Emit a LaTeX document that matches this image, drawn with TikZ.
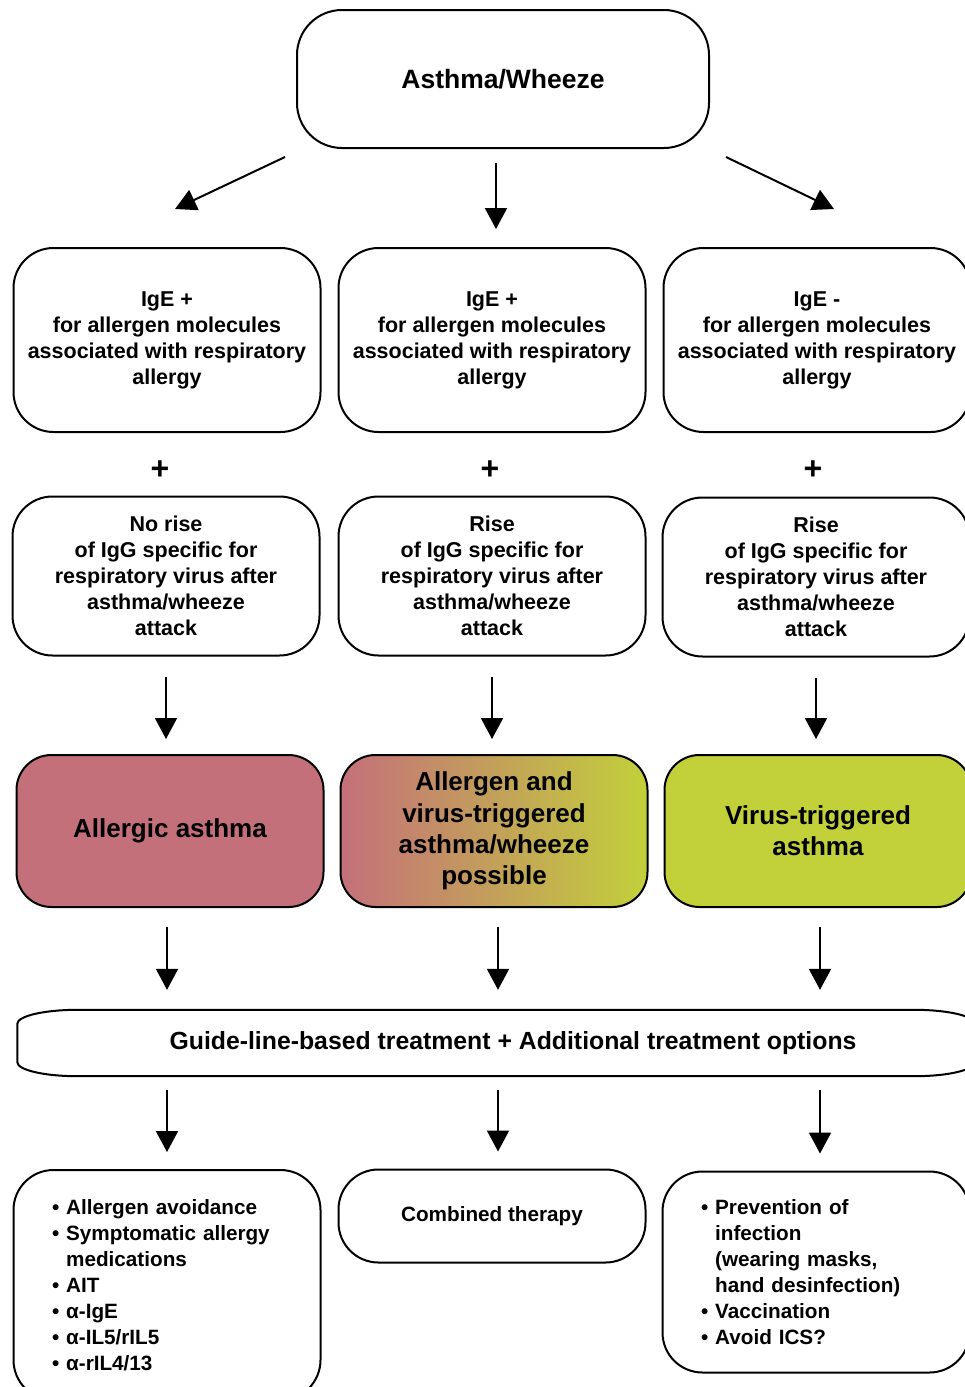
\documentclass[tikz,border=0pt]{standalone}
\usepackage{fontspec}
\setmainfont{Liberation Sans}
\usetikzlibrary{arrows.meta}

\definecolor{allergic}{RGB}{196,112,122}
\definecolor{viral}{RGB}{194,208,58}

\tikzset{
  box/.style={draw, line width=2pt, rounded corners=40pt, align=center, inner sep=0pt,
    minimum width=307pt, font=\bfseries\fontsize{21.5}{26}\selectfont},
  bigbox/.style={box, rounded corners=35pt, minimum height=152pt,
    font=\bfseries\fontsize{26}{31.3}\selectfont},
  listbox/.style={box, align=left, text width=230pt, font=\bfseries\fontsize{20.7}{26}\selectfont},
  arr/.style={line width=2pt, -{Triangle[length=21pt,width=22pt]}},
  plus/.style={font=\bfseries\fontsize{32}{32}\selectfont}
}

\begin{document}
\begin{tikzpicture}[x=1pt,y=-1pt]
    \clip (0,0) rectangle (965,1387);
    \fill[white] (0,0) rectangle (965,1387);

    % top
    \node[box, rounded corners=45pt, minimum width=412pt, minimum height=138pt,
      font=\bfseries\fontsize{26.5}{30}\selectfont] (top) at (503,79) {Asthma/Wheeze};

    % IgE status
    \node[box, minimum height=184pt] (ige1) at (167,340) {IgE +\\for allergen molecules\\associated with respiratory\\allergy};
    \node[box, minimum height=184pt] (ige2) at (492,340) {IgE +\\for allergen molecules\\associated with respiratory\\allergy};
    \node[box, minimum height=184pt] (ige3) at (817,340) {IgE -\\for allergen molecules\\associated with respiratory\\allergy};

    \node[plus] (plus1) at (160,470) {+};
    \node[plus] (plus2) at (490,470) {+};
    \node[plus] (plus3) at (813,470) {+};

    % IgG rise
    \node[box, minimum height=159pt] (igg1) at (166,576) {No rise\\of IgG specific for\\respiratory virus after\\asthma/wheeze\\attack};
    \node[box, minimum height=159pt] (igg2) at (492,576) {Rise\\of IgG specific for\\respiratory virus after\\asthma/wheeze\\attack};
    \node[box, minimum height=159pt] (igg3) at (816,577) {Rise\\of IgG specific for\\respiratory virus after\\asthma/wheeze\\attack};

    % diagnosis
    \node[bigbox, fill=allergic] (dia1) at (170,831) {Allergic asthma};
    \node[bigbox, left color=allergic, right color=viral] (dia2) at (494,831) {Allergen and\\virus-triggered\\asthma/wheeze\\possible};
    \node[bigbox, fill=viral] (dia3) at (818,831) {Virus-triggered\\asthma};

    % treatment banner
    \node[minimum width=957pt, minimum height=66pt, inner sep=0pt,
      font=\bfseries\fontsize{24.8}{26}\selectfont] (treat) at (496,1043)
      {\hspace*{34pt}Guide-line-based treatment + Additional treatment options};
    \draw[line width=2pt] ([yshift=-14pt]treat.north west)
      arc[start angle=180, end angle=90, x radius=60pt, y radius=14pt]
      -- ([xshift=-60pt]treat.north east)
      arc[start angle=90, end angle=0, x radius=60pt, y radius=14pt]
      -- ([yshift=14pt]treat.south east)
      arc[start angle=0, end angle=-90, x radius=60pt, y radius=14pt]
      -- ([xshift=60pt]treat.south west)
      arc[start angle=270, end angle=180, x radius=60pt, y radius=14pt]
      -- cycle;

    % options
    \node[listbox, minimum height=230pt] (opt1) at (167,1285)
      {\textbullet\ Allergen avoidance\\\textbullet\ Symptomatic allergy\\\hphantom{\textbullet\ }medications\\\textbullet\ AIT\\\textbullet\ α-IgE\\\textbullet\ α-IL5/rIL5\\\textbullet\ α-rIL4/13};
    \node[box, minimum height=93pt, font=\bfseries\fontsize{20.7}{26}\selectfont] (opt2) at (492,1216) {Combined therapy};
    \node[listbox, minimum height=201pt] (opt3) at (816,1272)
      {\textbullet\ Prevention of\\\hphantom{\textbullet\ }infection\\\hphantom{\textbullet\ }(wearing masks,\\\hphantom{\textbullet\ }hand desinfection)\\\textbullet\ Vaccination\\\textbullet\ Avoid ICS?};

    % arrows
    \draw[arr] ([shift={(-11,8)}]top.south west) -- ([shift={(8,-38)}]ige1.north);
    \draw[arr] ([shift={(-7,14)}]top.south) -- ([shift={(4,-18)}]ige2.north);
    \draw[arr] ([shift={(16,8)}]top.south east) -- ([shift={(17,-38)}]ige3.north);

    \draw[arr, shorten <=20pt, shorten >=15pt] (igg1.south) -- (igg1.south |- dia1.north);
    \draw[arr, shorten <=20pt, shorten >=15pt] (igg2.south) -- (igg2.south |- dia2.north);
    \draw[arr, shorten <=20pt, shorten >=15pt] (igg3.south) -- (igg3.south |- dia3.north);

    \draw[arr, shorten <=19pt, shorten >=20pt] ([xshift=-3pt]dia1.south) -- ([xshift=-3pt]dia1.south |- treat.north);
    \draw[arr, shorten <=19pt, shorten >=20pt] ([xshift=4pt]dia2.south) -- ([xshift=4pt]dia2.south |- treat.north);
    \draw[arr, shorten <=19pt, shorten >=20pt] ([xshift=2pt]dia3.south) -- ([xshift=2pt]dia3.south |- treat.north);

    \draw[arr, shorten <=14pt, shorten >=17pt] (opt1.north |- treat.south) -- (opt1.north);
    \draw[arr, shorten <=14pt, shorten >=17pt] ([xshift=6pt]opt2.north |- treat.south) -- ([xshift=6pt]opt2.north);
    \draw[arr, shorten <=14pt, shorten >=17pt] ([xshift=4pt]opt3.north |- treat.south) -- ([xshift=4pt]opt3.north);
\end{tikzpicture}
\end{document}
